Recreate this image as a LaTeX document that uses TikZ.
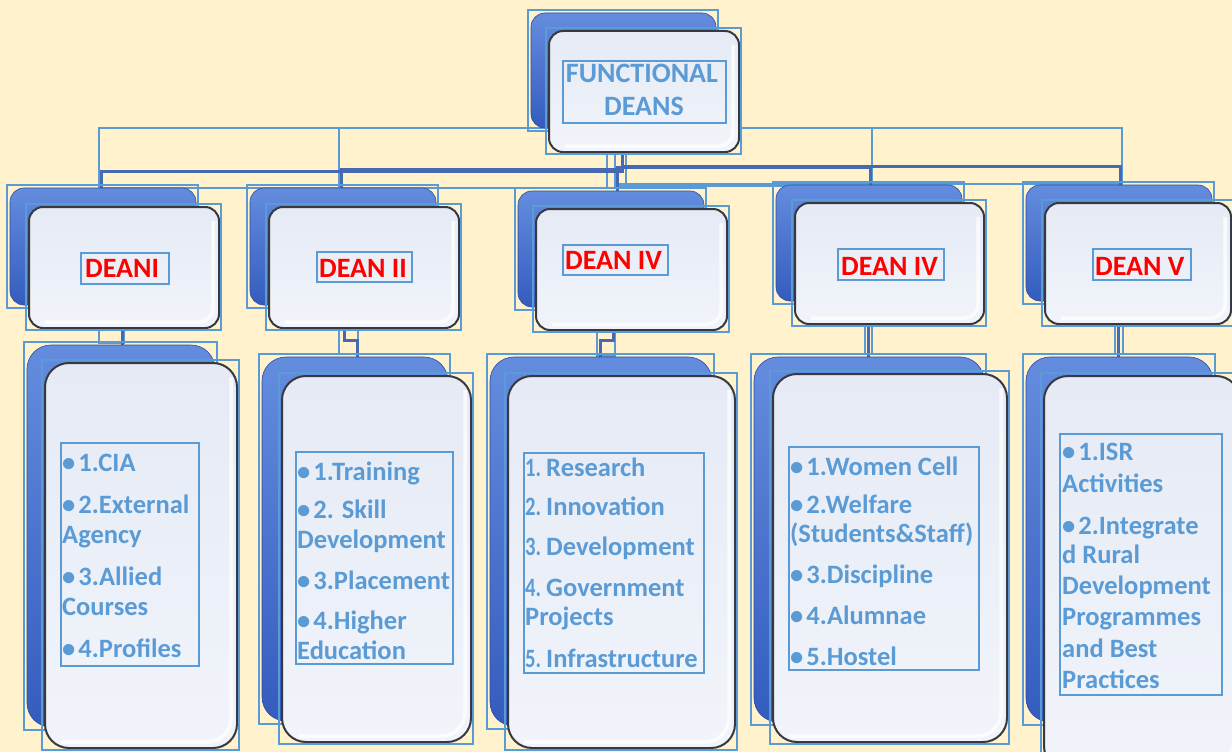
\documentclass[tikz,border=0pt]{standalone}
\usepackage{fontspec}
\usepackage{graphicx}
\setmainfont{Carlito}
\definecolor{bg}{RGB}{255,242,204}
\definecolor{tblue}{RGB}{91,155,213}
\definecolor{conn}{RGB}{70,106,178}
\definecolor{edgec}{RGB}{55,57,66}
\definecolor{backtop}{RGB}{100,140,222}
\definecolor{backbot}{RGB}{52,92,190}
\definecolor{fronttop}{RGB}{229,234,245}
\definecolor{frontbot}{RGB}{241,244,250}
\tikzset{
  backbox/.style={rounded corners=\rc, top color=backtop, bottom color=backbot, draw=backbot!85!black, line width=0.6pt},
  frontbox/.style={rectangle, rounded corners=\rc, top color=fronttop, bottom color=frontbot, draw=edgec, line width=2pt, inner sep=0pt},
  gloss/.style={rounded corners=\rc, draw=white, line width=3.5pt, opacity=0.75},
  frame/.style={draw=tblue, line width=1.3pt},
  link/.style={draw=conn, line width=3pt},
  linkframe/.style={draw=tblue, line width=1.2pt},
  deanlabel/.style={text=red, font=\fontsize{28}{32}\selectfont\bfseries, inner sep=0pt, anchor=base west},
  titletext/.style={text=tblue, font=\fontsize{28}{32}\selectfont\bfseries, inner sep=0pt, anchor=base},
  items/.style={text=tblue, font=\fontsize{26.5}{30}\selectfont\bfseries, align=left, inner sep=0pt, anchor=north west},
}
\def\rc{14pt}
\newcommand\bul{•\hspace{3pt}}
\newcommand\numx[1]{\makebox[21pt][l]{\scalebox{0.78}[1]{#1}}}
\newcommand\unitbox[9]{%
  \draw[frame] ({#2-3},{#3-3}) rectangle ({#4+2},{#5+3});
  \path[backbox] (#2,#3) rectangle (#4,#5);
  \node[frontbox, minimum width={(#8-#6)*1pt}, minimum height={(#9-#7)*1pt}] (#1) at ({(#6+#8)/2},{(#7+#9)/2}) {};
  \draw[gloss] ({#8-6},{#7+14}) -- ({#8-6},{#9-6}) -- ({#6+16},{#9-6});
  \draw[frame] ({#6-3},{#7-3}) rectangle ({#8+2},{#9+2});
}
\begin{document}
\begin{tikzpicture}[x=1pt,y=-1pt]
\useasboundingbox (0,0) rectangle (1232,752);
\clip (0,0) rectangle (1232,752);
\fill[bg] (0,0) rectangle (1232,752);

% connector frames
\draw[linkframe] (99,128) rectangle (626,188);
\draw[linkframe] (339,128) rectangle (626,188);
\draw[linkframe] (607,153) rectangle (626,188);
\draw[linkframe] (615,128) rectangle (872,186);
\draw[linkframe] (615,128) rectangle (1122,184);
\draw[linkframe] (99,330) rectangle (124,343);
\draw[linkframe] (339,330) rectangle (358,354);
\draw[linkframe] (597,330) rectangle (615,356);
\draw[linkframe] (865,326) rectangle (872,354);
\draw[linkframe] (1115,326) rectangle (1123,354);

% connector end points
\coordinate (tp) at (622,152);
\coordinate (d1in) at (101,189);
\coordinate (d2in) at (341,189);
\coordinate (d3in) at (617,191);
\coordinate (d4in) at (870,186);
\coordinate (d5in) at (1120,186);
\coordinate (d1out) at (122,328);
\coordinate (l1in) at (122,346);
\coordinate (d2out) at (344,328);
\coordinate (l2in) at (357,358);
\coordinate (d3out) at (613,330);
\coordinate (l3in) at (600,358);
\coordinate (d4out) at (868,324);
\coordinate (l4in) at (868,358);
\coordinate (d5out) at (1118,324);
\coordinate (l5in) at (1118,358);

\draw[link] (tp) -- ++(0,19) -| (d1in);
\draw[link] (tp) -- ++(0,17) -| (d2in);
\draw[link] (tp) -- ++(0,15) -| (d3in);
\draw[link] (tp) -- ++(0,15) -| (d4in);
\draw[link] (tp) -- ++(0,14) -| (d5in);
\draw[link] (d1out) -- (l1in);
\draw[link] (d2out) -- ++(0,12) -| (l2in);
\draw[link] (d3out) -- ++(0,10) -| (l3in);
\draw[link] (d4out) -- (l4in);
\draw[link] (d5out) -- (l5in);

% boxes
\def\rc{14pt}
\unitbox{top}{531}{13}{716}{128}{549}{31}{739}{152}
\unitbox{dA}{10}{188}{196}{305}{29}{207}{219}{328}
\unitbox{dB}{250}{188}{436}{305}{269}{207}{459}{328}
\unitbox{dC}{518}{191}{704}{307}{536}{209}{727}{330}
\unitbox{dD}{776}{185}{962}{301}{795}{203}{984}{324}
\unitbox{dE}{1026}{185}{1212}{301}{1045}{203}{1231}{324}
\def\rc{24pt}
\unitbox{lA}{27}{345}{215}{727}{45}{363}{237}{748}
\unitbox{lB}{262}{357}{448}{721}{282}{376}{471}{742}
\unitbox{lC}{490}{357}{712}{726}{508}{376}{735}{748}
\unitbox{lD}{754}{357}{984}{722}{773}{374}{1007}{742}
\unitbox{lE}{1026}{357}{1213}{722}{1044}{376}{1240}{770}

% text frames
\draw[frame] (563,61) rectangle (726,123);
\draw[frame] (81,253) rectangle (169,284);
\draw[frame] (317,252) rectangle (412,282);
\draw[frame] (563,245) rectangle (668,275);
\draw[frame] (838,249) rectangle (944,280);
\draw[frame] (1093,249) rectangle (1191,280);
\draw[frame] (61,443) rectangle (199,666);
\draw[frame] (296,452) rectangle (453,664);
\draw[frame] (524,453) rectangle (704,673);
\draw[frame] (789,447) rectangle (979,670);
\draw[frame] (1060,434) rectangle (1222,695);

% texts
\node[titletext] (t1) at (642,83) {FUNCTIONAL};
\node[titletext] (t2) at (644,115) {DEANS};
\node[deanlabel] (n1) at (85,277) {DEANI};
\node[deanlabel] (n2) at (319,277) {DEAN II};
\node[deanlabel] (n3) at (565,269) {DEAN IV};
\node[deanlabel] (n4) at (841,275) {DEAN IV};
\node[deanlabel] (n5) at (1095,275) {DEAN V};

\node[items] (i1) at (62,451) {\rule{0pt}{20pt}\bul1.CIA\\[12pt]\bul2.External\\Agency\\[12pt]\bul3.Allied\\Courses\\[12pt]\bul4.Profiles};
\node[items] (i2) at (297,460) {\rule{0pt}{20pt}\bul1.Training\\[8pt]\bul2. Skill\\Development\\[11pt]\bul3.Placement\\[10pt]\bul4.Higher\\Education};
\node[items] (i3) at (525,456) {\rule{0pt}{20pt}\numx{1.}Research\\[9pt]\numx{2.}Innovation\\[10pt]\numx{3.}Development\\[11pt]\numx{4.}Government\\[-1pt]Projects\\[12pt]\numx{5.}Infrastructure};
\node[items] (i4) at (790,455) {\rule{0pt}{20pt}\bul1.Women Cell\\[8pt]\bul2.Welfare\\[-1pt](Students\&Staff)\\[11pt]\bul3.Discipline\\[11pt]\bul4.Alumnae\\[11pt]\bul5.Hostel};
\node[items] (i5) at (1062,440) {\rule{0pt}{20pt}\bul1.ISR\\[2pt]Activities\\[12pt]\bul2.Integrate\\[-1pt]d Rural\\[1pt]Development\\[1pt]Programmes\\[2pt]and Best\\[1pt]Practices};
\end{tikzpicture}
\end{document}
